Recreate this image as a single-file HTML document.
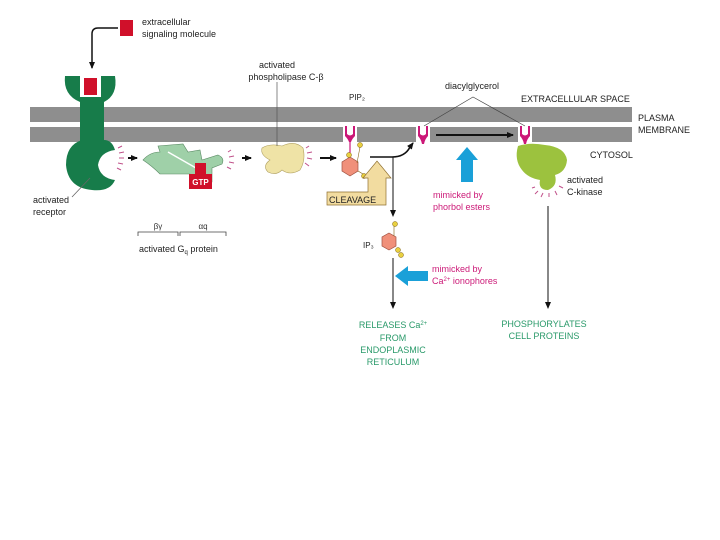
<!DOCTYPE html>
<html><head><meta charset="utf-8"><style>
html,body{margin:0;padding:0;background:#fff;}
svg{display:block;font-family:"Liberation Sans",sans-serif;}
</style></head><body>
<svg width="720" height="540" viewBox="0 0 720 540" xmlns="http://www.w3.org/2000/svg">
<defs>
<marker id="ah" markerWidth="8" markerHeight="8" refX="6" refY="4" orient="auto" markerUnits="userSpaceOnUse"><path d="M0,1 L7,4 L0,7 z" fill="#111"/></marker>
</defs>
<rect x="30" y="107" width="602" height="15" fill="#8e8e8e"/>
<rect x="30" y="127" width="602" height="15" fill="#8e8e8e"/>
<rect x="120" y="20" width="13" height="16" fill="#d0102a"/>
<text x="142" y="25" font-size="9" fill="#222">extracellular</text>
<text x="142" y="37" font-size="9" fill="#222">signaling molecule</text>
<path d="M118,28 L98,28 Q92,28 92,34 L92,68" fill="none" stroke="#111" stroke-width="1.5" marker-end="url(#ah)"/>
<!-- receptor -->
<path d="M65,76 L115,76 Q118,95 104,102 L80,102 Q63,95 65,76 Z" fill="#177c4a"/>
<rect x="80" y="98" width="24" height="46" fill="#177c4a"/>
<path d="M82,140 Q66,145 66,165 Q68,188 92,190 Q110,192 115,180 Q100,178 98,165 Q100,152 115,150 Q112,140 104,140 Z" fill="#177c4a"/>
<rect x="80" y="75" width="21" height="22" fill="#fff"/>
<rect x="84" y="78" width="13" height="17" fill="#d0102a"/>
<line x1="72" y1="197" x2="90" y2="178" stroke="#666" stroke-width="0.8"/>
<text x="33" y="203" font-size="9" fill="#222">activated</text>
<text x="33" y="215" font-size="9" fill="#222">receptor</text>
<g stroke="#c0508a" stroke-width="1"><line x1="118" y1="148" x2="122" y2="146"/><line x1="119" y1="153" x2="124" y2="152"/><line x1="119" y1="158" x2="124" y2="158"/><line x1="118" y1="163" x2="123" y2="164"/><line x1="117" y1="168" x2="121" y2="170"/></g>
<line x1="128" y1="158" x2="137" y2="158" stroke="#111" stroke-width="2" marker-end="url(#ah)"/>
<path d="M143,160 Q150,152 160,152 L158,146 L183,144 L188,152 L200,150 L202,160 L218,155 Q225,158 222,164 L212,168 L212,182 L197,182 L190,174 L160,174 Q152,166 143,160 Z" fill="#9fd0a8" stroke="#5a8a64" stroke-width="0.6"/>
<line x1="168" y1="152" x2="196" y2="168" stroke="#fff" stroke-width="1.5"/>
<rect x="195" y="163" width="11" height="12" fill="#d0102a"/>
<rect x="189" y="174" width="23" height="15" fill="#d0102a"/>
<text x="200.5" y="185" font-size="8" font-weight="bold" fill="#fff" text-anchor="middle">GTP</text>
<g stroke="#c0508a" stroke-width="1"><line x1="228" y1="152" x2="231" y2="150"/><line x1="229" y1="157" x2="234" y2="156"/><line x1="229" y1="162" x2="234" y2="163"/><line x1="227" y1="167" x2="231" y2="169"/></g>
<line x1="242" y1="158" x2="251" y2="158" stroke="#111" stroke-width="2" marker-end="url(#ah)"/>
<path d="M138,236 L138,232 L178,232 L178,236 M180,236 L180,232 L226,232 L226,236" fill="none" stroke="#444" stroke-width="0.8"/>
<text x="158" y="229" font-size="8" fill="#333" text-anchor="middle">βγ</text>
<text x="203" y="229" font-size="8" fill="#333" text-anchor="middle">αq</text>
<text x="139" y="252" font-size="9" fill="#222">activated G<tspan font-size="6" dy="2">q</tspan><tspan dy="-2"> protein</tspan></text>
<path d="M262,148 Q270,143 282,146 Q295,140 303,148 Q306,160 300,170 Q290,176 282,170 Q276,176 268,172 Q262,166 270,160 Q260,155 262,148 Z" fill="#efe3a6" stroke="#b0a060" stroke-width="0.6"/>
<line x1="277" y1="82" x2="277" y2="146" stroke="#555" stroke-width="0.7"/>
<text x="277" y="68" font-size="9" fill="#222" text-anchor="middle">activated</text>
<text x="286" y="80" font-size="9" fill="#222" text-anchor="middle">phospholipase C-β</text>
<g stroke="#c0508a" stroke-width="1"><line x1="306" y1="148" x2="309" y2="146"/><line x1="307" y1="153" x2="312" y2="152"/><line x1="307" y1="158" x2="312" y2="159"/><line x1="305" y1="163" x2="309" y2="166"/></g>
<line x1="320" y1="158" x2="336" y2="158" stroke="#111" stroke-width="2" marker-end="url(#ah)"/>
<text x="349" y="100" font-size="8" fill="#222">PIP₂</text>
<rect x="343" y="122" width="14" height="22" fill="#fff"/>
<path d="M345,126 L347,126 L347,134 Q350,137 353,134 L353,126 L355,126 L355,136 Q352,139 351,142 L349,142 Q348,139 345,136 Z" fill="#cc1878"/>
<line x1="350" y1="142" x2="350" y2="153" stroke="#cc1878" stroke-width="1.2"/>
<polygon points="350,157 358,162 358,171 350,176 342,171 342,162" fill="#f0907a" stroke="#a05040" stroke-width="0.7"/>
<circle cx="349" cy="155" r="2.5" fill="#e8d040" stroke="#806010" stroke-width="0.5"/>
<circle cx="360" cy="145" r="2.5" fill="#e8d040" stroke="#806010" stroke-width="0.5"/>
<circle cx="364" cy="176" r="2.5" fill="#e8d040" stroke="#806010" stroke-width="0.5"/>
<line x1="357" y1="163" x2="360" y2="147" stroke="#806010" stroke-width="0.6"/>
<line x1="358" y1="171" x2="363" y2="174" stroke="#806010" stroke-width="0.6"/>
<path d="M368,192 L368,178 L363,178 L377,161 L391,178 L386,178 L386,205 L327,205 L327,192 Z" fill="#f2dca0" stroke="#907030" stroke-width="0.7"/>
<text x="329" y="203" font-size="9" fill="#222">CLEAVAGE</text>
<path d="M370,157 L392,157 Q405,157 410,147 L413,143" fill="none" stroke="#111" stroke-width="1.6" marker-end="url(#ah)"/>
<line x1="393" y1="157" x2="393" y2="216" stroke="#111" stroke-width="1" marker-end="url(#ah)"/>
<rect x="416" y="122" width="14" height="22" fill="#fff"/>
<path d="M418,126 L420,126 L420,134 Q423,137 426,134 L426,126 L428,126 L428,136 Q425,139 424,144 L422,144 Q421,139 418,136 Z" fill="#cc1878"/>
<rect x="518" y="122" width="14" height="22" fill="#fff"/>
<path d="M520,126 L522,126 L522,134 Q525,137 528,134 L528,126 L530,126 L530,136 Q527,139 526,144 L524,144 Q523,139 520,136 Z" fill="#cc1878"/>
<text x="445" y="89" font-size="9" fill="#222">diacylglycerol</text>
<path d="M424,126 L473,97 L525,126" fill="none" stroke="#444" stroke-width="0.7"/>
<line x1="436" y1="135" x2="513" y2="135" stroke="#111" stroke-width="2" marker-end="url(#ah)"/>
<text x="521" y="102" font-size="9" fill="#222">EXTRACELLULAR SPACE</text>
<text x="638" y="121" font-size="9" fill="#222">PLASMA</text>
<text x="638" y="133" font-size="9" fill="#222">MEMBRANE</text>
<text x="590" y="158" font-size="9" fill="#222">CYTOSOL</text>
<path d="M467,147 L478,160 L473,160 L473,182 L461,182 L461,160 L456,160 Z" fill="#1aa0d8"/>
<text x="433" y="198" font-size="9" fill="#cc1a78">mimicked by</text>
<text x="433" y="210" font-size="9" fill="#cc1a78">phorbol esters</text>
<path d="M395,276 L408,266 L408,271 L428,271 L428,281 L408,281 L408,286 Z" fill="#1aa0d8"/>
<text x="432" y="272" font-size="9" fill="#cc1a78">mimicked by</text>
<text x="432" y="284" font-size="9" fill="#cc1a78">Ca<tspan font-size="6" dy="-3">2+</tspan><tspan dy="3"> ionophores</tspan></text>
<path d="M518,146 Q530,142 545,145 Q565,147 567,160 Q566,172 555,175 Q558,186 548,190 Q538,190 540,180 Q528,178 522,170 Q514,160 518,146 Z" fill="#9cc23e"/>
<g stroke="#c0508a" stroke-width="1"><line x1="535" y1="187" x2="532" y2="188"/><line x1="538" y1="191" x2="535" y2="194"/><line x1="543" y1="193" x2="541" y2="197"/><line x1="549" y1="193" x2="549" y2="197"/><line x1="555" y1="191" x2="557" y2="195"/><line x1="559" y1="186" x2="563" y2="188"/></g>
<text x="567" y="183" font-size="9" fill="#222">activated</text>
<text x="567" y="195" font-size="9" fill="#222">C-kinase</text>
<line x1="548" y1="206" x2="548" y2="308" stroke="#111" stroke-width="1" marker-end="url(#ah)"/>
<text x="363" y="248" font-size="8" fill="#222">IP₃</text>
<polygon points="389,233 396,237 396,246 389,250 382,246 382,237" fill="#f0907a" stroke="#a05040" stroke-width="0.7"/>
<circle cx="395" cy="224" r="2.5" fill="#e8d040" stroke="#806010" stroke-width="0.5"/>
<circle cx="398" cy="250" r="2.5" fill="#e8d040" stroke="#806010" stroke-width="0.5"/>
<circle cx="401" cy="255" r="2.5" fill="#e8d040" stroke="#806010" stroke-width="0.5"/>
<line x1="394" y1="226" x2="394" y2="236" stroke="#806010" stroke-width="0.6"/>
<line x1="393" y1="258" x2="393" y2="308" stroke="#111" stroke-width="1" marker-end="url(#ah)"/>
<g font-size="9" fill="#2a9a6a" text-anchor="middle">
<text x="393" y="328">RELEASES Ca<tspan font-size="6" dy="-3">2+</tspan></text>
<text x="393" y="341">FROM</text>
<text x="393" y="353">ENDOPLASMIC</text>
<text x="393" y="365">RETICULUM</text>
<text x="544" y="327">PHOSPHORYLATES</text>
<text x="544" y="339">CELL PROTEINS</text>
</g>
</svg>
</body></html>
